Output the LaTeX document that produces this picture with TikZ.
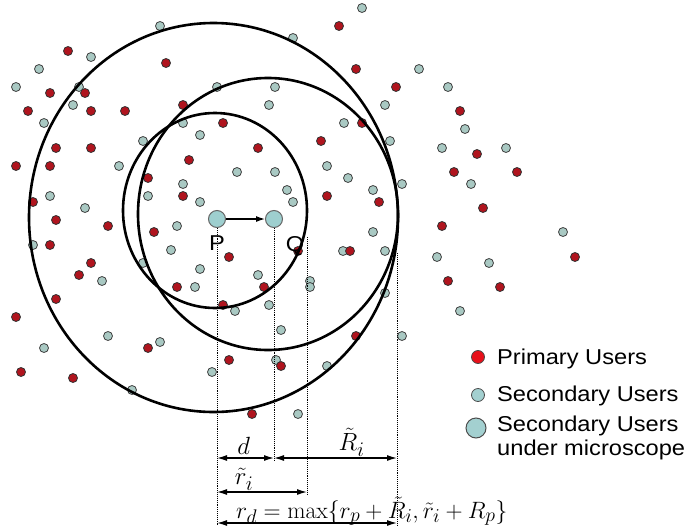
\documentclass[tikz,border=0pt]{standalone}
\usepackage{amsmath}
\usepackage{fontspec}
\usepackage{xcolor}
\usetikzlibrary{arrows.meta,positioning,calc}
\newfontfamily\labfont[FakeStretch=1.1]{Liberation Sans}
\definecolor{pured}{HTML}{B0141E}
\definecolor{sugray}{HTML}{A9C9C3}
\definecolor{legred}{HTML}{E8101A}
\definecolor{legteal}{HTML}{A3D0D0}
\definecolor{micro}{HTML}{9ECFCF}

\begin{document}
\begin{tikzpicture}[x=1pt,y=-1pt,>={Latex[length=10pt,width=6pt]},
  pu/.style={circle,draw=black!80,fill=pured,line width=0.8pt,minimum size=9pt,inner sep=0pt},
  su/.style={circle,draw=black!75,fill=sugray,line width=0.8pt,minimum size=9pt,inner sep=0pt},
  mic/.style={circle,draw=black!60,fill=micro,line width=1pt,minimum size=17pt,inner sep=0pt},
  reach/.style={line width=2.6pt},
  guide/.style={densely dotted,line width=0.9pt},
  dim/.style={<->,line width=1.3pt},
  mathlab/.style={font=\fontsize{24.88}{28}\selectfont},
  lab/.style={font=\labfont\fontsize{21.5}{24}\selectfont,inner sep=0pt}]
\useasboundingbox (0,0) rectangle (693,530);
% users scattered around
\foreach \x/\y [count=\i] in {160/26,293/38,362/8,91/57,39/69,16/87,79/87,217/87,275/87,419/69,448/87,73/105,269/105,385/105,44/123,183/123,344/123,465/129,200/135,143/141,390/141,442/148,506/148,119/166,237/172,275/172,327/166,348/178,402/184,471/184,183/184,287/190,373/190,50/196,148/196,200/202,293/202,85/208,177/226,373/232,563/232,33/245,171/250,343/251,385/251,437/257,489/263,143/263,200/269,258/275,102/281,195/287,310/281,310/287,385/293,269/305,235/311,460/311,281/330,108/336,402/336,160/342,44/348,276/360,327/366,212/372,132/390,298/414}
  \node[su] (su\i) at (\x,\y) {};
\foreach \x/\y [count=\i] in {339/26,68/51,166/63,356/69,50/93,85/93,396/87,28/111,91/111,125/111,183/105,460/111,223/123,362/123,56/148,91/148,258/148,321/141,477/154,16/166,50/166,189/160,148/178,454/172,517/172,327/196,183/196,379/202,483/208,33/202,56/220,108/226,154/232,442/226,50/245,350/251,229/257,298/251,575/257,91/263,79/275,177/287,264/287,448/281,500/287,56/299,223/305,16/317,356/336,148/348,229/360,281/366,21/372,73/378,252/414}
  \node[pu] (pu\i) at (\x,\y) {};
% ranges
\draw[reach] (215,210.5) ellipse [x radius=92,y radius=97.5];
\draw[reach] (268,214) ellipse [x radius=130,y radius=136];
\draw[reach] (213.5,217.5) ellipse [x radius=184.5,y radius=194.5];
% P moves to Q
\node[mic] (P) at (217,219) {};
\node[mic] (Q) at (274,219) {};
\draw[->,line width=1.2pt,>={Latex[length=9pt,width=6pt]}] (P)--(Q);
\node[lab,below=8pt of P] (Pl) {P};
\node[lab,below=8pt of Q,xshift=21pt] (Ql) {Q};
% distances
\coordinate (ri) at (307,237);
\coordinate (Ri) at (397,253);
\coordinate (rowd) at (0,458);
\coordinate (rowr) at (0,492);
\coordinate (rowm) at (0,523);
\coordinate (rowe) at (0,526);
\draw[guide] (P.south)--(P |- rowe);
\draw[guide] (Q.south)--($(Q |- rowd)+(0,2)$);
\draw[guide] (ri)--($(ri |- rowr)+(0,2)$);
\draw[guide] (Ri)--(Ri |- rowe);
\draw[dim] (P |- rowd)--node[above=0pt,pos=0.47,mathlab]{$d$}(Q |- rowd);
\draw[dim] (Q |- rowd)--node[above=-2pt,pos=0.63,mathlab]{$\tilde{R}_i$}(Ri |- rowd);
\draw[dim] (P |- rowr)--node[above=-2pt,pos=0.3,mathlab]{$\tilde{r}_i$}(ri |- rowr);
\draw[dim] (P |- rowm)--(Ri |- rowm);
\node[anchor=base west,inner sep=0pt,mathlab,scale=0.95] (rd) at (236,518) {$r_d=\max\{r_p+\tilde{R}_i,\tilde{r}_i+R_p\}$};
% legend
\node[circle,draw=black!70,fill=legred,line width=0.8pt,minimum size=13pt,inner sep=0pt] (lpu) at (478,357) {};
\node[circle,draw=black!70,fill=legteal,line width=0.8pt,minimum size=13pt,inner sep=0pt] (lsu) at (478,395) {};
\node[circle,draw=black!70,fill=legteal,line width=1pt,minimum size=20pt,inner sep=0pt] (lmic) at (476,428) {};
\node[lab,anchor=west] (lput) at (497,359) {Primary Users};
\node[lab,anchor=west] (lsut) at (497,396) {Secondary Users};
\node[lab,anchor=north west,align=left] (lmict) at (497,416) {Secondary Users\\under microscope};
\end{tikzpicture}
\end{document}
